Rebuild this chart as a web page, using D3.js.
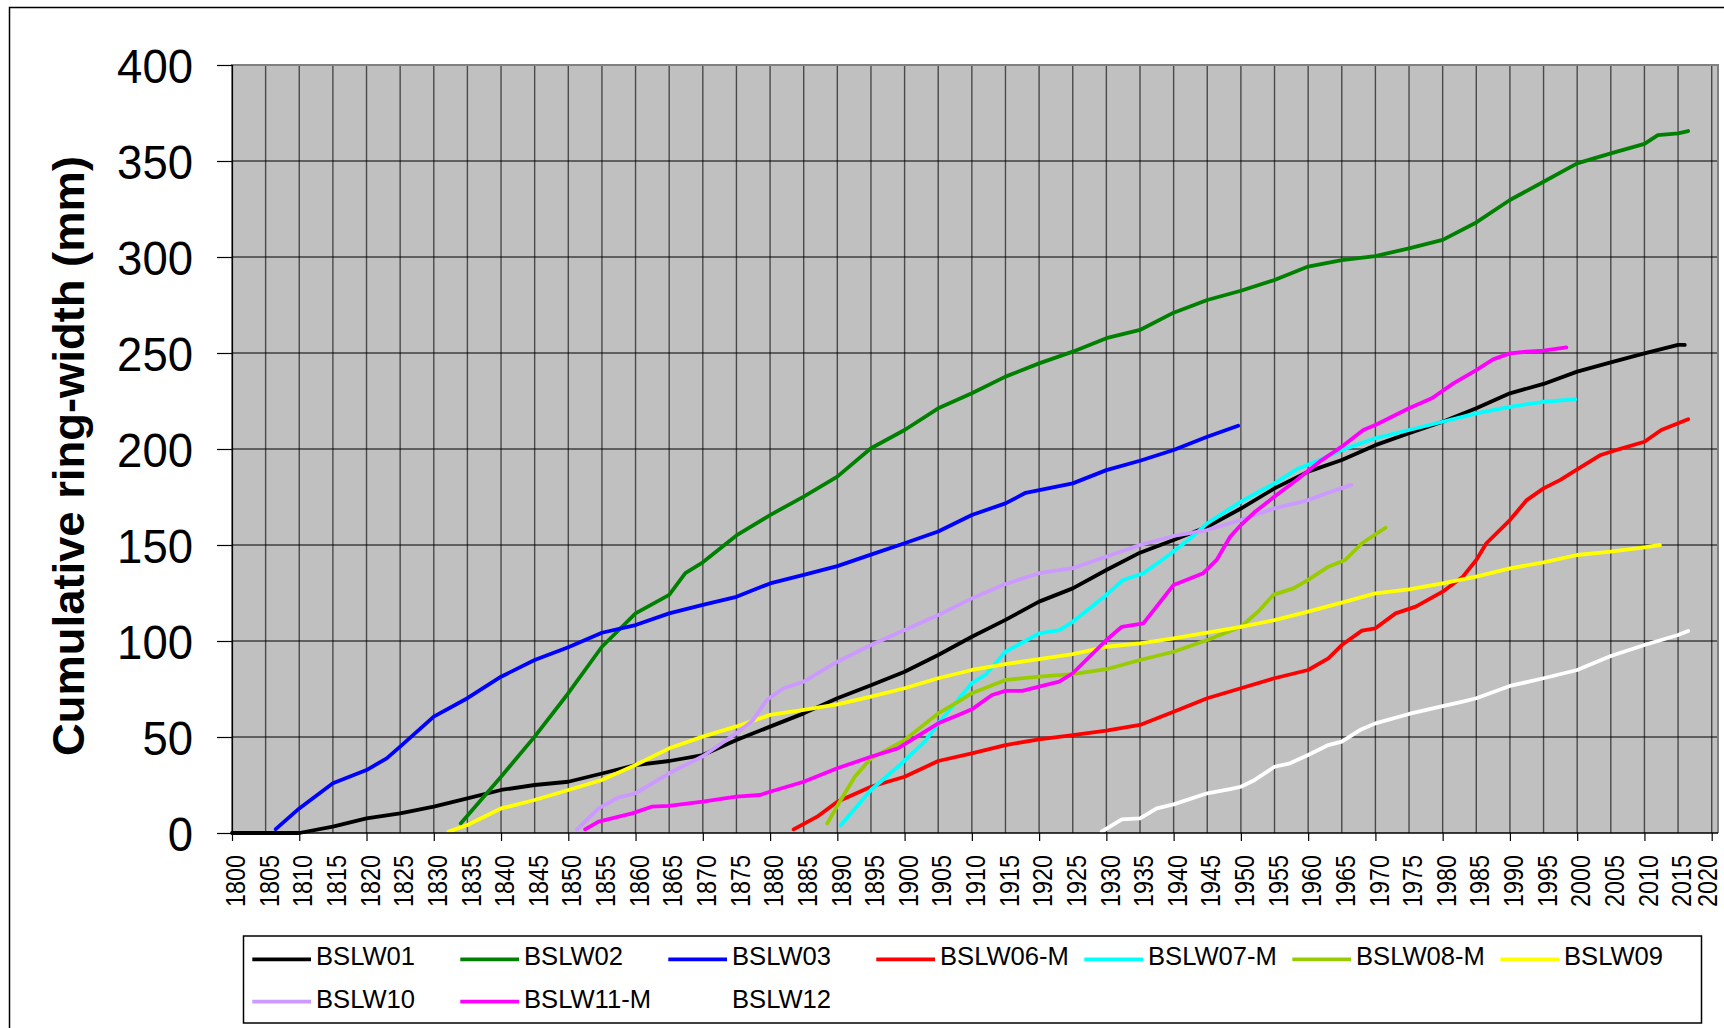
<!DOCTYPE html>
<html>
<head>
<meta charset="utf-8">
<script src="https://cdn.jsdelivr.net/npm/d3@7"></script>
<style>
  html, body { margin: 0; padding: 0; background: #fff; }
  svg { display: block; font-family: Arial, "Liberation Sans", sans-serif; }
</style>
</head>
<body>
<svg id="chart" width="1724" height="1028"></svg>
<script>
// Cumulative ring-width series, [year, cumulative mm]
const bslw01 = [[1800,0],[1810,0],[1815,3.3],[1820,7.6],[1825,10.2],[1830,13.7],[1835,18],[1840,22.4],[1845,25],[1850,26.7],[1855,31],[1860,35.4],[1865,37.5],[1870,40.6],[1875,48.4],[1880,55.4],[1885,62.3],[1890,70.2],[1895,77],[1900,84],[1905,92.7],[1910,102.2],[1915,111],[1920,120.5],[1925,127.4],[1930,137],[1935,146],[1940,152.6],[1945,159.5],[1950,169],[1955,179.5],[1960,188.2],[1965,194.3],[1970,202],[1975,208.2],[1980,214.2],[1985,221.2],[1990,229],[1995,233.9],[2000,240.3],[2005,245.1],[2010,249.8],[2015,254.2],[2016,254.2]];
const bslw02 = [[1834,5],[1840,29.3],[1845,50.2],[1850,72.8],[1855,97],[1860,114.4],[1865,124],[1867.4,135.3],[1870,141],[1875,155],[1880,165.6],[1885,175.2],[1890,185.6],[1895,200.4],[1900,209.9],[1905,221.2],[1910,229],[1915,237.7],[1920,244.6],[1925,250.7],[1930,257.7],[1935,262],[1940,271],[1945,277.6],[1950,282.4],[1955,288],[1960,295],[1965,298.4],[1970,300.5],[1975,304.5],[1980,308.9],[1985,318],[1990,329.7],[1995,339.2],[2000,348.8],[2005,354],[2010,358.9],[2012,363.5],[2015,364.4],[2016.5,365.6]];
const bslw03 = [[1806.5,2],[1810,12.8],[1815,25.9],[1820,32.8],[1823,38.9],[1825,45],[1830,60.6],[1835,70.2],[1840,81.4],[1845,90.1],[1850,96.7],[1855,104.3],[1860,108.3],[1865,114.4],[1870,118.8],[1875,123],[1880,130],[1885,134.4],[1890,139],[1895,145],[1900,150.9],[1905,157],[1910,165.6],[1915,171.7],[1918,177.2],[1925,182.1],[1930,189],[1935,193.9],[1940,199.5],[1945,206.4],[1949.6,212.1]];
const bslw06m = [[1883.5,1.9],[1887,8.5],[1890,16.3],[1895,24.1],[1900,29.3],[1905,37.5],[1910,41.5],[1915,45.8],[1920,48.8],[1925,51],[1930,53.3],[1935,56.3],[1940,63.2],[1945,70.2],[1950,75.4],[1955,80.6],[1960,84.9],[1963,91],[1965,97.9],[1968,105.4],[1970,106.6],[1973,114.4],[1976,117.9],[1980,125.7],[1983,133.5],[1985,142.2],[1986.5,150.9],[1990,163],[1992.5,173.4],[1995,179.5],[1997.5,183.9],[2000,189.4],[2003.5,196.9],[2005,198.6],[2010,203.8],[2012.5,209.9],[2016.5,215.5]];
const bslw07m = [[1890.5,4],[1895,22.4],[1899,34.5],[1903,47.6],[1905,57.1],[1910,78],[1912,82.3],[1915,94.4],[1920,104],[1923,105.7],[1925,110],[1930,124],[1932.5,131.8],[1935.5,135.3],[1939,144],[1942.5,153.5],[1945,161.3],[1950,172.6],[1955,182.1],[1958.3,189.4],[1961.7,194.3],[1965,199.5],[1970,205.6],[1975,209.9],[1980,214.2],[1985,218.6],[1990,222],[1995,224.6],[1999.7,225.9]];
const bslw08m = [[1888.5,5],[1890.5,17.2],[1892.6,29.3],[1895,38.9],[1900,48.4],[1905,62.3],[1908,68.4],[1910,72.8],[1915,79.7],[1920,81.4],[1925,82.8],[1930,85.3],[1935,90.1],[1940,94.4],[1945,100.5],[1950,107.4],[1952.8,116.1],[1954.8,124],[1957.8,127.4],[1960,131.8],[1963,138.7],[1965.5,142.2],[1968,150.9],[1971.5,159]];
const bslw09 = [[1832.2,0.7],[1835,4.2],[1840,12.8],[1845,17.2],[1850,22.4],[1855,27.6],[1860,35.4],[1865,44.1],[1870,50.2],[1875,55.5],[1880,61.5],[1885,64.1],[1890,67],[1895,71],[1900,75.4],[1905,80.6],[1910,84.9],[1915,88],[1920,90.5],[1925,93.2],[1930,97],[1935,98.8],[1940,101.4],[1945,104.3],[1950,107.4],[1955,110.9],[1960,115.3],[1965,120],[1970,124.8],[1975,126.9],[1980,130],[1985,133.5],[1990,137.8],[1995,141],[2000,144.8],[2005,146.5],[2010,148.8],[2012.3,150]];
const bslw10 = [[1851.3,1.9],[1854.5,12.8],[1857.5,18.6],[1860,20.7],[1865,31.1],[1870,40],[1875,52],[1877.5,58.9],[1879.5,69.3],[1882,75.4],[1885,78.8],[1890,89.2],[1895,97.9],[1900,105.7],[1905,113.5],[1910,122.2],[1915,129.7],[1920,135.3],[1925,137.9],[1928.5,142.2],[1935,150],[1940,154.7],[1945,157.8],[1950,163],[1955,169.1],[1960,173.4],[1962.7,176.9],[1966.4,181.3]];
const bslw11m = [[1852.5,1.9],[1854.5,5.9],[1859.5,10.2],[1862.4,13.7],[1865,14.1],[1870,16.3],[1875,18.9],[1878.5,19.8],[1880,21.5],[1885,26.7],[1890,33.7],[1895,39.7],[1899,44.1],[1905,57.1],[1908,61.5],[1910,64.4],[1913,71.9],[1915,74],[1917.5,74],[1920,76.2],[1923,78.8],[1925,83.2],[1930,100.5],[1932.3,107.4],[1935.5,109.2],[1940,129.2],[1944.4,135.3],[1946.4,142.2],[1948.4,154.3],[1950,160.4],[1952,167],[1955,175.2],[1958.3,183.9],[1961.7,193.4],[1965,201.2],[1968.2,209.9],[1970,212.5],[1975,221.2],[1978.4,226.4],[1981.6,234.2],[1985,241.1],[1987.5,246.7],[1990,249.8],[1992.5,250.7],[1995,251.2],[1998.4,252.9]];
const bslw12 = [[1929.3,0.7],[1932.3,7.1],[1935,7.6],[1937.5,12.8],[1940,14.9],[1945,20.7],[1948.4,22.8],[1950,24.1],[1952,27.5],[1955,34.5],[1957.3,36.3],[1960,40.6],[1963,45.8],[1965,47.6],[1967.7,53.6],[1970,57.1],[1975,62],[1980,66.1],[1983,68.4],[1985,70.2],[1990,76.6],[1995,80.6],[2000,84.9],[2005,92.2],[2010,97.9],[2015,103.1],[2016.5,105.2]];

const seriesNames  = ["BSLW01","BSLW02","BSLW03","BSLW06-M","BSLW07-M","BSLW08-M","BSLW09","BSLW10","BSLW11-M","BSLW12"];
const seriesValues = [bslw01, bslw02, bslw03, bslw06m, bslw07m, bslw08m, bslw09, bslw10, bslw11m, bslw12];
const seriesColors = ["#000000","#008000","#0000FF","#FF0000","#00FFFF","#99CC00","#FFFF00","#CC99FF","#FF00FF","#FFFFFF"];

const yTicks = [0, 50, 100, 150, 200, 250, 300, 350, 400];
const xLabelYears = d3.range(1800, 2021, 5);
const xTickYears = d3.range(1800, 2021, 10);
const yTitle = "Cumulative ring-width (mm)";

const W = 1724;
const svg = d3.select("#chart");

// outer chart frame
svg.append("rect")
  .attr("x", 9.5).attr("y", 7.5).attr("width", 1740).attr("height", 1040)
  .attr("fill", "#fff").attr("stroke", "#000").attr("stroke-width", 1.5);

const plot = { left: 232, top: 65, right: 1718, bottom: 833 };

const x = d3.scaleLinear().domain([1800, 2020]).range([plot.left, 1711.7]);
const y = d3.scaleLinear().domain([0, 400]).range([plot.bottom, plot.top]);

// plot background
svg.append("rect")
  .attr("x", plot.left).attr("y", plot.top)
  .attr("width", plot.right - plot.left).attr("height", plot.bottom - plot.top)
  .attr("fill", "#C0C0C0");

// vertical gridlines every 5 years
svg.append("g").selectAll("line")
  .data(xLabelYears.filter(v => v > 1800))
  .join("line")
  .attr("x1", d => x(d)).attr("x2", d => x(d))
  .attr("y1", plot.top).attr("y2", plot.bottom)
  .attr("stroke", "#4a4a4a").attr("stroke-width", 1.4);

// horizontal gridlines
svg.append("g").selectAll("line")
  .data(yTicks.filter(v => v > 0 && v < 400))
  .join("line")
  .attr("x1", plot.left).attr("x2", plot.right)
  .attr("y1", d => y(d)).attr("y2", d => y(d))
  .attr("stroke", "#000").attr("stroke-width", 1);

// plot frame (top / right / left)
svg.append("path")
  .attr("d", `M${plot.left},${plot.bottom}V${plot.top}H${plot.right}V${plot.bottom}`)
  .attr("fill", "none").attr("stroke", "#808080").attr("stroke-width", 2);

// series lines
const line = d3.line().x(d => x(d[0])).y(d => y(d[1]));
svg.append("g").selectAll("path")
  .data(seriesValues)
  .join("path")
  .attr("d", d => line(d))
  .attr("fill", "none")
  .attr("stroke", (d, i) => seriesColors[i])
  .attr("stroke-width", 3.8)
  .attr("stroke-linejoin", "round")
  .attr("stroke-linecap", "round");

// y axis
const yAxis = svg.append("g")
  .attr("transform", `translate(${plot.left},0)`)
  .call(d3.axisLeft(y).tickValues(yTicks).tickSize(15).tickPadding(24).tickFormat(d3.format("d")));
yAxis.select(".domain").attr("stroke", "#000").attr("stroke-width", 1.2);
yAxis.selectAll(".tick line").attr("stroke", "#000").attr("stroke-width", 1.2);
yAxis.selectAll(".tick text")
  .attr("font-size", 48).attr("fill", "#000")
  .attr("font-family", "Arial, 'Liberation Sans', sans-serif")
  .attr("dy", "0.36em")
  .attr("textLength", d => String(d).length * 25.3)
  .attr("lengthAdjust", "spacingAndGlyphs");

// x axis: labels every 5 years, tick marks every 10
const xAxis = svg.append("g")
  .attr("transform", `translate(0,${plot.bottom})`)
  .call(d3.axisBottom(x).tickValues(xLabelYears).tickSize(8).tickFormat(d3.format("d")));
xAxis.select(".domain").attr("d", `M${plot.left},0H${plot.right}`).attr("stroke", "#000").attr("stroke-width", 1.5);
xAxis.selectAll(".tick line")
  .attr("stroke", "#000").attr("stroke-width", 1.2)
  .attr("display", d => xTickYears.includes(d) ? null : "none");
// rotated labels; the last one is nudged so it stays inside the page
xAxis.selectAll(".tick text")
  .attr("font-size", 28).attr("fill", "#000")
  .attr("font-family", "Arial, 'Liberation Sans', sans-serif")
  .attr("transform", "rotate(-90)")
  .attr("text-anchor", "end")
  .attr("x", -22)
  .attr("y", d => Math.min(12.7, W - 8 - x(d)))
  .attr("dy", 0)
  .attr("textLength", 52).attr("lengthAdjust", "spacingAndGlyphs");

// y axis title
svg.append("text")
  .attr("transform", "translate(84,456) rotate(-90)")
  .attr("text-anchor", "middle")
  .attr("font-size", 45).attr("font-weight", "bold")
  .attr("textLength", 600).attr("lengthAdjust", "spacingAndGlyphs")
  .text(yTitle);

// legend
const legend = svg.append("g");
legend.append("rect")
  .attr("x", 243.5).attr("y", 936).attr("width", 1458).attr("height", 87)
  .attr("fill", "#fff").attr("stroke", "#000").attr("stroke-width", 1.5);

const items = legend.selectAll("g.item")
  .data(seriesNames)
  .join("g")
  .attr("class", "item")
  .attr("transform", (d, i) => `translate(${252.3 + (i % 7) * 208},${959.3 + Math.floor(i / 7) * 42.4})`);
items.append("line")
  .attr("x1", 0).attr("x2", 58.7).attr("y1", 0).attr("y2", 0)
  .attr("stroke", (d, i) => seriesColors[i]).attr("stroke-width", 3.8);
items.append("text")
  .attr("x", 63.7).attr("y", 6)
  .attr("font-size", 25.6).attr("fill", "#000")
  .text(d => d);
</script>
</body>
</html>
